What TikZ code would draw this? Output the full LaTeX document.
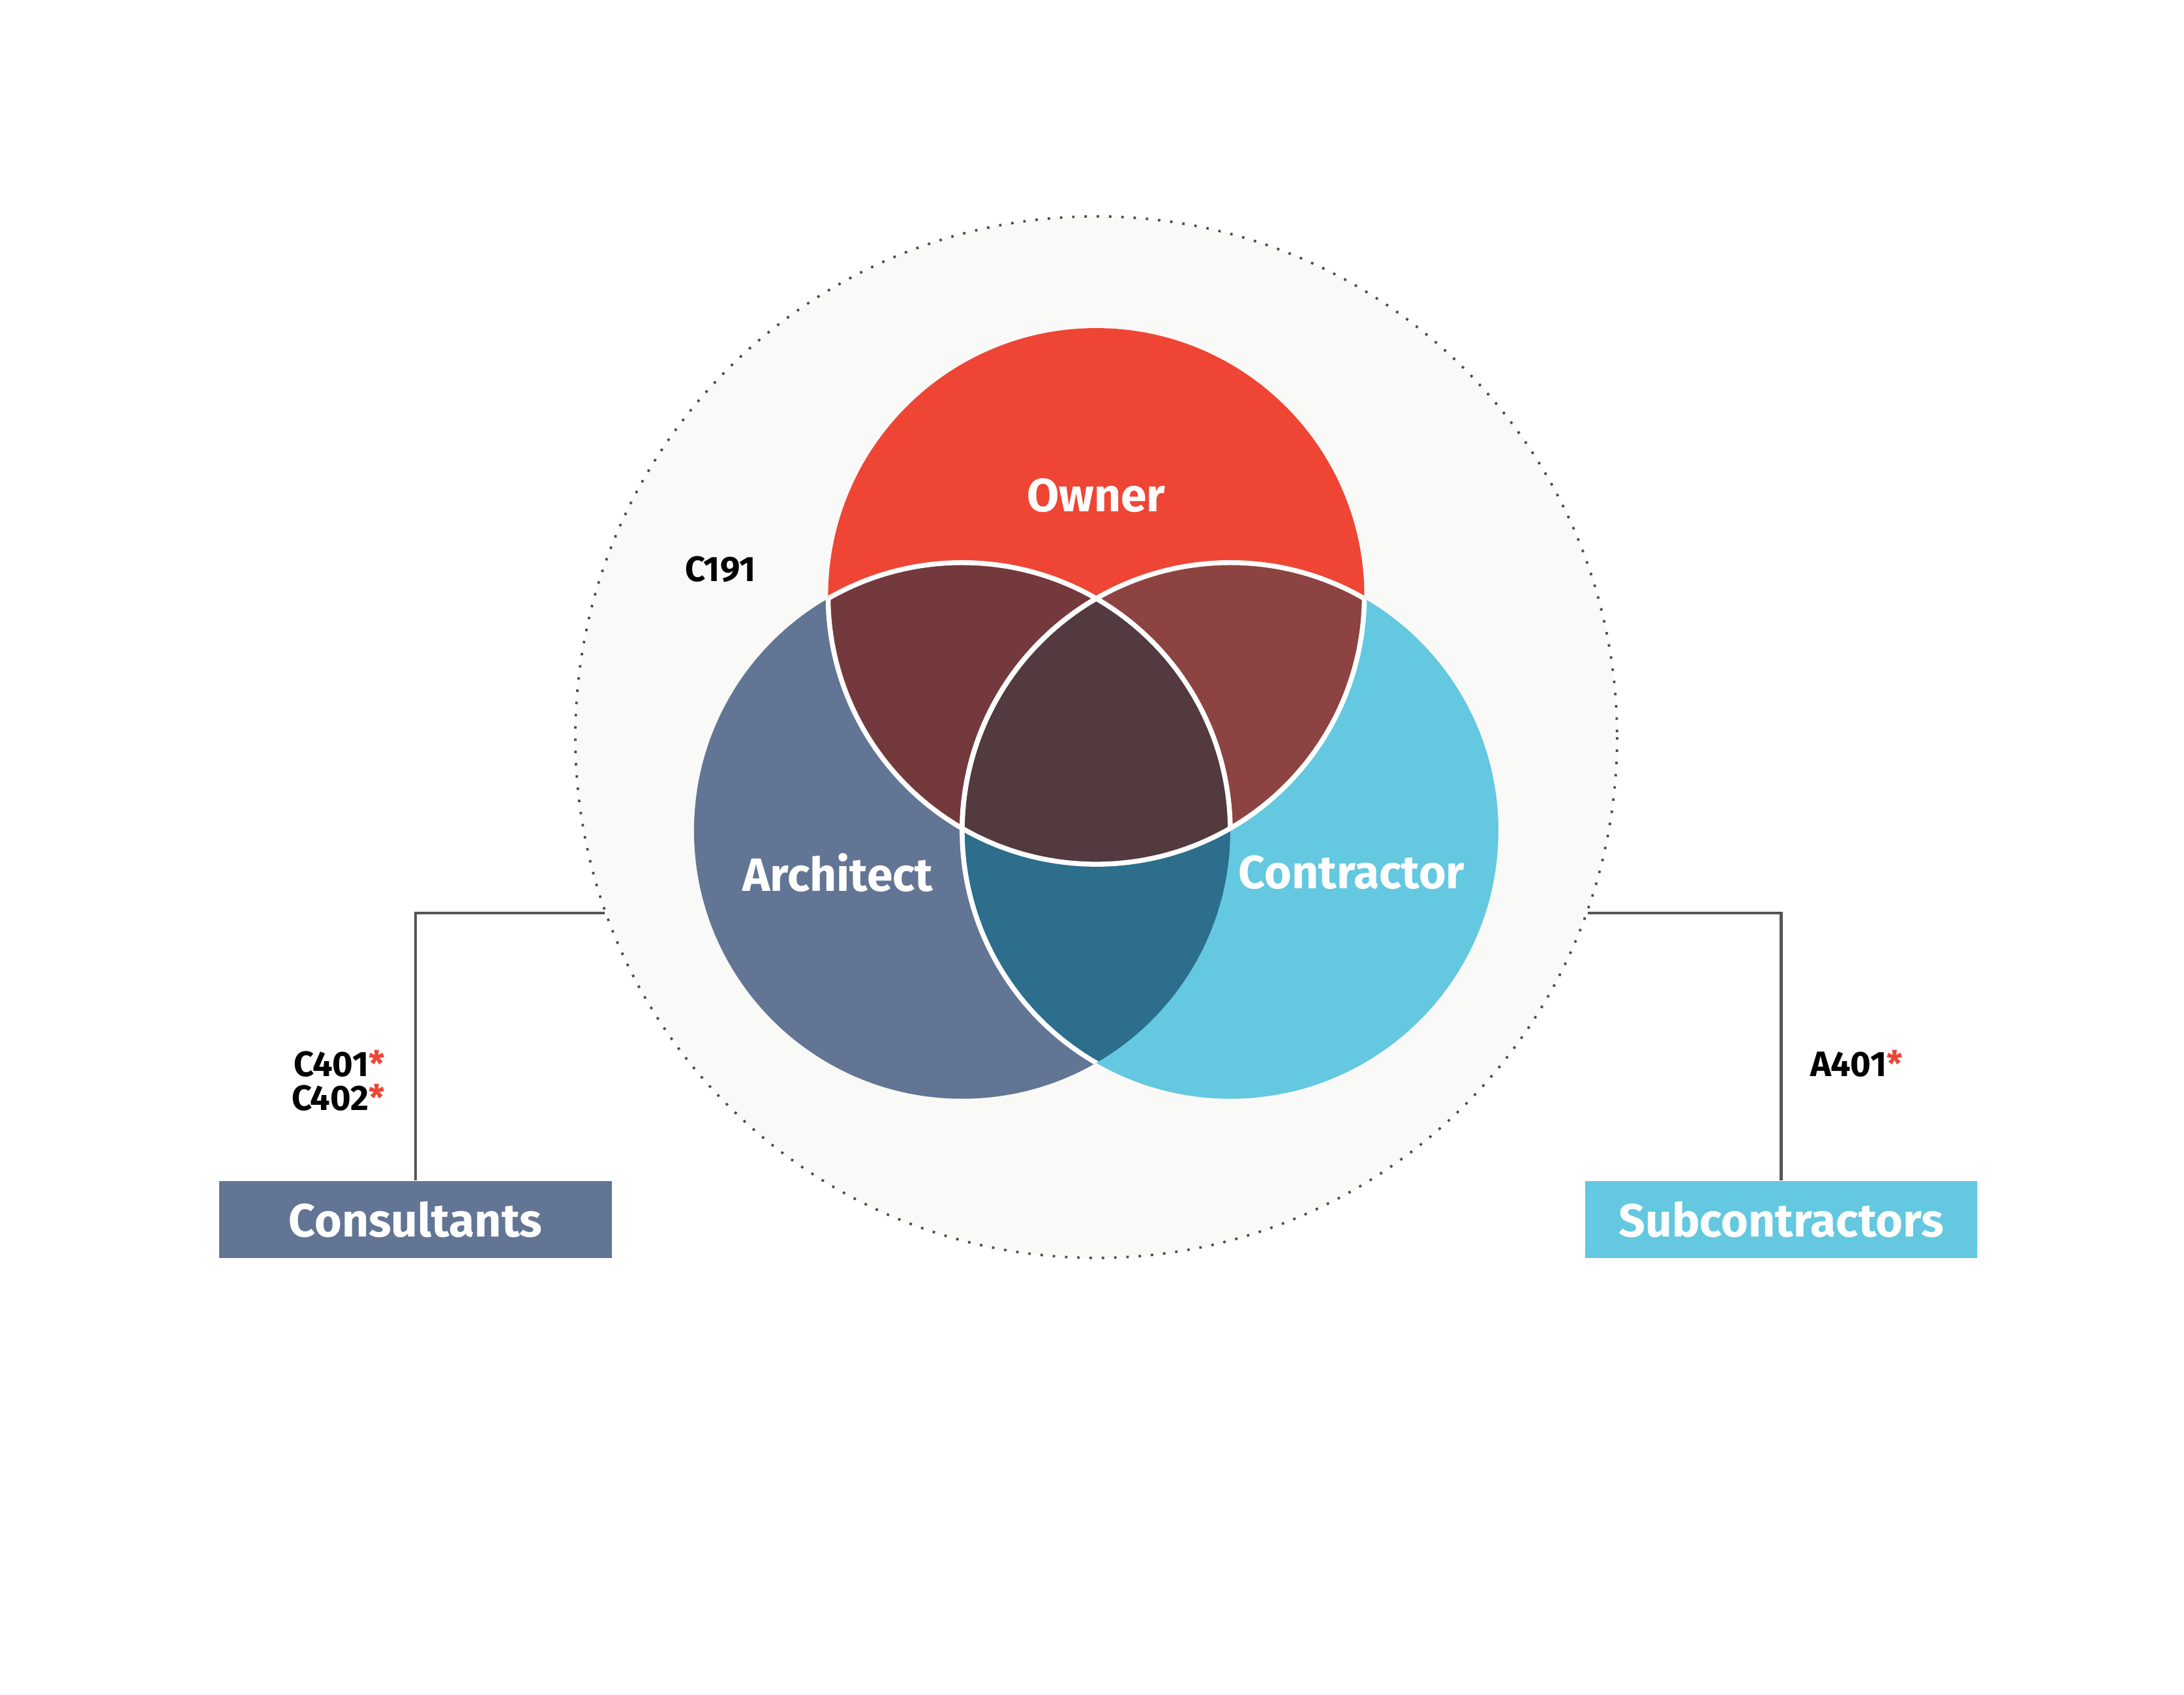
\documentclass[tikz,border=0pt]{standalone}
\usepackage{fontspec}
\setmainfont{Fira Sans}
\usetikzlibrary{positioning}
\definecolor{ownerred}{HTML}{EF4535}
\definecolor{archblue}{HTML}{637594}
\definecolor{contcyan}{HTML}{63C8E0}
\definecolor{oaclr}{HTML}{74393D}
\definecolor{occlr}{HTML}{8C4341}
\definecolor{acclr}{HTML}{2C6E8C}
\definecolor{allclr}{HTML}{523A3E}
\definecolor{haze}{HTML}{F9F9F7}
\definecolor{wire}{HTML}{555555}
\newcommand{\rad}{192}

\begin{document}
\begin{tikzpicture}[x=0.01cm, y=-0.01cm,
    lbl/.style={text=white, font=\bfseries\fontsize{9.5}{11}\selectfont},
    code/.style={font=\bfseries\fontsize{7.2}{9}\selectfont, align=right},
    party/.style={minimum width=2.81cm, minimum height=0.55cm, inner sep=0pt, text=white, font=\bfseries\fontsize{9.5}{11}\selectfont},
    link/.style={draw=wire, line width=0.6pt}]
    \useasboundingbox (0,0) rectangle (1564,1214);

    % outer contract ring
    \draw[fill=haze, draw=black!70, dotted, line width=0.5pt] (785,528) circle (373);

    % the three parties
    \fill[archblue] (689,595) circle (\rad);
    \fill[contcyan] (881,595) circle (\rad);
    \fill[ownerred] (785,427) circle (\rad);
    \begin{scope}
        \clip (785,427) circle (\rad);
        \fill[oaclr] (689,595) circle (\rad);
        \fill[occlr] (881,595) circle (\rad);
    \end{scope}
    \begin{scope}
        \clip (689,595) circle (\rad);
        \fill[acclr] (881,595) circle (\rad);
        \clip (881,595) circle (\rad);
        \fill[allclr] (785,427) circle (\rad);
    \end{scope}
    \begin{scope}
        \clip (785,427) circle (\rad);
        \draw[white, line width=1pt] (689,595) circle (\rad);
        \draw[white, line width=1pt] (881,595) circle (\rad);
    \end{scope}
    \begin{scope}
        \clip (689,595) circle (\rad);
        \draw[white, line width=1pt] (881,595) circle (\rad);
    \end{scope}
    \begin{scope}
        \clip (689,595) circle (\rad) (881,595) circle (\rad);
        \draw[white, line width=1pt] (785,427) circle (\rad);
    \end{scope}

    \node[lbl] (owner) at (785,355) {Owner};
    \node[lbl] (arch) at (600,625) {Architect};
    \node[lbl] (cont) at (968,625) {Contractor};
    \node[code] (c191) at (516,408) {C191};

    % outside parties
    \node[party, fill=archblue] (cons) at (297.5,873.5) {Consultants};
    \node[party, fill=contcyan] (subs) at (1275.5,873.5) {Subcontractors};
    \coordinate (lring) at (433,654);
    \coordinate (rring) at (1137,654);
    \draw[link] (lring) -| (cons.north);
    \draw[link] (rring) -| (subs.north);

    \node[code, anchor=east] (cfour) at (288,774) {C401\textcolor{ownerred}{*}\\[-2pt]C402\textcolor{ownerred}{*}};
    \node[code, anchor=west] (afour) at (1284,762) {A401\textcolor{ownerred}{*}};
\end{tikzpicture}
\end{document}
